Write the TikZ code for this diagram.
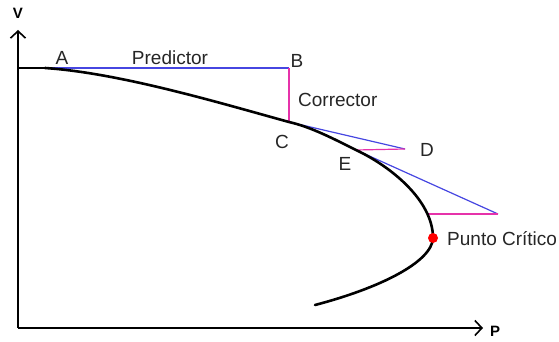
\documentclass[tikz,border=0pt]{standalone}
\usepackage{fontspec}
\setmainfont{Liberation Sans}
\usetikzlibrary{arrows.meta}

\definecolor{predblue}{RGB}{70,70,225}
\definecolor{corrpink}{RGB}{230,50,170}

\begin{document}
\begin{tikzpicture}[
    x=1pt, y=-1pt,
    axis/.style={line width=1.6pt, -{Straight Barb[length=7pt,width=15pt,line width=1.6pt]}},
    curve/.style={line width=2.6pt, black, line cap=round},
    predict/.style={line width=1.2pt, predblue},
    correct/.style={line width=1.2pt, corrpink},
    lbl/.style={font=\fontsize{19}{22}\selectfont, text=black!85, inner sep=1pt},
    axlbl/.style={font=\fontsize{15}{18}\selectfont\bfseries, inner sep=1pt}
]
    \useasboundingbox (0,0) rectangle (559,342);

    % points of the path
    \coordinate (O) at (18,328);
    \coordinate (vtop) at (18,30);
    \coordinate (pend) at (483,328);
    \coordinate (v0) at (18,68);
    \coordinate (A) at (45,68);
    \coordinate (B) at (289,68);
    \coordinate (C) at (289,122);
    \coordinate (D) at (405,149);
    \coordinate (E) at (356,150);
    \coordinate (F) at (498,214);
    \coordinate (G) at (427,214);
    \coordinate (crit) at (433,238);
    \coordinate (tail) at (315,305);

    % axes
    \draw[axis] (O) -- (vtop);
    \draw[axis] (O) -- (pend);
    \node[axlbl] (vlab) at (18,13) {V};
    \node[axlbl] (plab) at (495,331) {P};

    % predictor / corrector steps
    \draw[predict] (A) -- (B);
    \draw[correct] (B) -- (C);
    \draw[predict] (C) -- (D);
    \draw[correct] (D) -- (E);
    \draw[predict] (E) -- (F);
    \draw[correct] (F) -- (G);

    % solution curve
    \draw[line width=1.6pt] (v0) -- (A);
    \draw[curve] (A) .. controls (120,73) and (220,103) .. (C)
        .. controls (311,127) and (334,139) .. (E)
        .. controls (390,166) and (433,200) .. (crit)
        .. controls (432,262) and (380,288) .. (tail);
    \fill[red] (crit) circle (5);

    % labels
    \node[lbl] (Alab) at (62,58) {A};
    \node[lbl] (predlab) at (170,58) {Predictor};
    \node[lbl] (Blab) at (297,61) {B};
    \node[lbl, anchor=west] (corrlab) at (297,100) {Corrector};
    \node[lbl] (Clab) at (282,142) {C};
    \node[lbl] (Dlab) at (427,150) {D};
    \node[lbl] (Elab) at (345,164) {E};
    \node[lbl, anchor=west] (critlab) at (446,239) {Punto Crítico};
\end{tikzpicture}
\end{document}
